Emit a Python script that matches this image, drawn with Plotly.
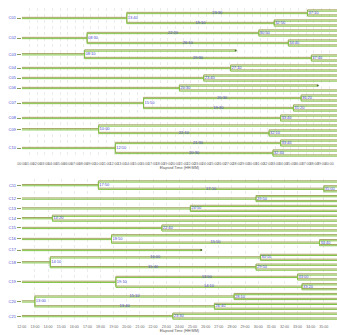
import plotly.graph_objects as go
from plotly.subplots import make_subplots

# ---- lineage data: upper panel (times as HH:MM elapsed) ----
top_cells = ["C01", "C02", "C03", "C04", "C05", "C06", "C07", "C08", "C09", "C10"]
top_root_div = ["13:40", "08:30", "08:10", "27:10", "23:40", "20:30", "15:50", "33:40", "10:00", "12:10"]
top_up_div = ["37:10", "30:50", None, None, None, None, "36:20", None, None, "33:40"]
top_low_div = ["32:50", "34:40", "37:40", None, None, None, "35:20", None, "32:10", "32:40"]
top_up_end = [None, None, "27:50", None, None, "38:30", None, None, None, None]
top_root_end = [None] * 10
top_range = (0, 41)

# ---- lineage data: lower panel ----
bot_cells = ["C11", "C12", "C13", "C14", "C15", "C16", "C17", "C18", "C19", "C20", "C21"]
bot_root_div = ["17:50", "29:50", "24:50", "14:20", "22:40", "18:50", None, "14:10", "19:10", "13:00", "23:30"]
bot_up_div = [None, None, None, None, None, None, None, "30:10", "33:00", "28:10", None]
bot_low_div = ["35:00", None, None, None, None, "34:40", None, "29:50", "33:20", "26:40", None]
bot_up_end = [None] * 11
bot_root_end = [None, None, None, None, None, None, "25:40", None, None, None, None]
bot_range = (12, 36)

OLIVE = "#a4a562"
GREEN = "#80c444"
BLUE = "#4a4ad0"
FONT = "Liberation Sans, Arial, sans-serif"


def hrs(s):
    h, m = s.split(":")
    return int(h) + int(m) / 60.0


def fmt(h):
    tot = int(round(h * 60))
    return f"{tot // 60:02d}:{tot % 60:02d}"


def layout_panel(root_div, up_div, low_div, up_end, root_end, t0, t1):
    hseg, vseg, fork_lbl, mid_lbl, ends, roots = [], [], [], [], [], []
    leaf = 0
    for i in range(len(root_div)):
        if root_div[i] is None:
            y = leaf
            leaf += 1
            xe = hrs(root_end[i]) if root_end[i] else t1
            hseg.append((t0, xe, y))
            if root_end[i]:
                ends.append((xe, y))
            roots.append(y)
            continue
        tr = hrs(root_div[i])
        branch_y = []
        for div, end in ((up_div[i], up_end[i]), (low_div[i], None)):
            if div is not None:
                ya, yb = leaf, leaf + 1
                leaf += 2
                yb_mid = (ya + yb) / 2
                td = hrs(div)
                hseg.append((tr, td, yb_mid))
                vseg.append((td, ya, yb))
                hseg.append((td, t1, ya))
                hseg.append((td, t1, yb))
                fork_lbl.append((td, yb_mid, fmt(td)))
                mid_lbl.append(((tr + td) / 2, yb_mid, fmt(td - tr)))
                branch_y.append(yb_mid)
            else:
                yb_mid = leaf
                leaf += 1
                xe = hrs(end) if end else t1
                hseg.append((tr, xe, yb_mid))
                if end:
                    ends.append((xe, yb_mid))
                branch_y.append(yb_mid)
        y = sum(branch_y) / 2
        hseg.append((t0, tr, y))
        vseg.append((tr, branch_y[0], branch_y[1]))
        fork_lbl.append((tr, y, fmt(tr)))
        roots.append(y)
    return hseg, vseg, fork_lbl, mid_lbl, ends, roots, leaf


def add_panel(fig, row, data, t0, t1):
    hseg, vseg, fork_lbl, mid_lbl, ends, roots, nleaf = data
    for color, off in ((OLIVE, -0.13), (GREEN, 0.13)):
        xs, ys = [], []
        for a, b, y in hseg:
            xs += [a, b, None]
            ys += [y + off, y + off, None]
        for x, ya, yb in vseg:
            xs += [x, x, None]
            ys += [ya + off, yb + off, None]
        fig.add_trace(go.Scatter(x=xs, y=ys, mode="lines", line=dict(color=color, width=1),
                                 hoverinfo="skip", showlegend=False), row=row, col=1)
    fig.add_trace(go.Scatter(
        x=[f[0] + (t1 - t0) * 0.003 for f in fork_lbl], y=[f[1] for f in fork_lbl],
        text=[f[2] for f in fork_lbl], mode="text", textposition="middle right",
        textfont=dict(size=4, color=BLUE, family=FONT), showlegend=False), row=row, col=1)
    fig.add_trace(go.Scatter(
        x=[m[0] for m in mid_lbl], y=[m[1] - 0.05 for m in mid_lbl], text=[m[2] for m in mid_lbl],
        mode="text", textposition="middle center",
        textfont=dict(size=4, color=BLUE, family=FONT), showlegend=False), row=row, col=1)
    if ends:
        fig.add_trace(go.Scatter(x=[e[0] for e in ends], y=[e[1] for e in ends], mode="markers",
                                 marker=dict(size=2, color="#4a6a2a"), showlegend=False), row=row, col=1)
    return roots, nleaf


fig = make_subplots(rows=2, cols=1)

top = layout_panel(top_root_div, top_up_div, top_low_div, top_up_end, top_root_end, *top_range)
bot = layout_panel(bot_root_div, bot_up_div, bot_low_div, bot_up_end, bot_root_end, *bot_range)
top_roots, top_n = add_panel(fig, 1, top, *top_range)
bot_roots, bot_n = add_panel(fig, 2, bot, *bot_range)

H = 335.0
tick_font = dict(size=3.6, color="#666666", family=FONT)
ylab_font = dict(size=4, color=BLUE, family=FONT)

top_ticks = list(range(top_range[0], top_range[1] + 1))
bot_ticks = list(range(bot_range[0], bot_range[1] + 1))

common_x = dict(showgrid=True, gridcolor="#ebebeb", griddash="dot", gridwidth=1,
                zeroline=False, showline=False, ticks="", tickangle=0, tickfont=tick_font,
                ticklabelstandoff=2, domain=[17 / 337, 1.0],
                title=dict(text="Elapsed Time (HH:MM)", font=dict(size=3.8, color="#555555", family=FONT),
                           standoff=0))
fig.update_xaxes(range=list(top_range), tickmode="array", tickvals=top_ticks,
                 ticktext=[f"{t:02d}:00" for t in top_ticks], row=1, col=1, **common_x)
fig.update_xaxes(range=list(bot_range), tickmode="array", tickvals=bot_ticks,
                 ticktext=[f"{t:02d}:00" for t in bot_ticks], row=2, col=1, **common_x)

fig.update_yaxes(range=[top_n - 0.5, -0.5], domain=[1 - 158 / H, 1 - 8 / H], tickmode="array",
                 tickvals=top_roots, ticktext=top_cells, row=1, col=1)
fig.update_yaxes(range=[bot_n - 0.5, -0.5], domain=[1 - 321 / H, 1 - 179 / H], tickmode="array",
                 tickvals=bot_roots, ticktext=bot_cells, row=2, col=1)
fig.update_yaxes(showgrid=False, zeroline=False, showline=False, ticks="outside", ticklen=4,
                 tickcolor="#8a9a5a", tickfont=ylab_font, ticklabelstandoff=0)

fig.update_layout(width=337, height=335, margin=dict(l=0, r=0, t=0, b=0),
                  paper_bgcolor="white", plot_bgcolor="white", showlegend=False)

fig.write_html("out.html")
